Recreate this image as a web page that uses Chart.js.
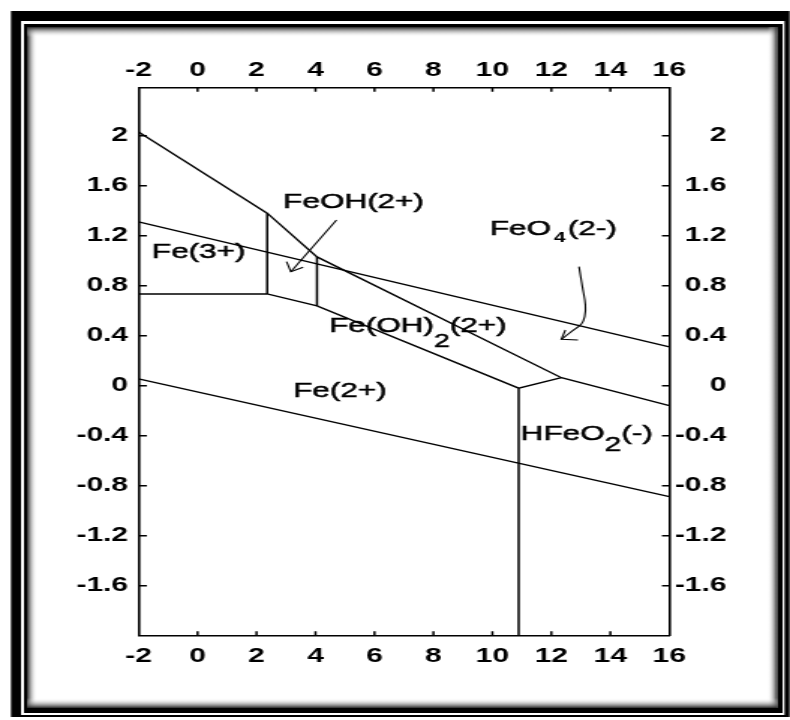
<!DOCTYPE html>
<html><head><meta charset="utf-8">
<style>
html,body{margin:0;padding:0;background:#fff;overflow:hidden}
#c{display:block}
</style>
<script src="https://cdn.jsdelivr.net/npm/chart.js@4/dist/chart.umd.min.js"></script>
</head><body>
<canvas id="c" width="527" height="720" style="width:790px;height:720px"></canvas>
<script>
// ---- data (pH on x, potential E in volts on y) ----
const xTickValues = [-2, 0, 2, 4, 6, 8, 10, 12, 14, 16];
const yTickValues = [-1.6, -1.2, -0.8, -0.4, 0, 0.4, 0.8, 1.2, 1.6, 2];

const upperBoundaryPH = [-2, 2.36, 4.05, 12.34, 16];
const upperBoundaryE  = [2.03, 1.38, 1.03, 0.064, -0.16];
const lowerBoundaryPH = [-2, 2.36, 4.05, 10.89, 12.34];
const lowerBoundaryE  = [0.734, 0.734, 0.638, -0.02, 0.064];
const oxygenLinePH    = [-2, 16];
const oxygenLineE     = [1.31, 0.31];
const hydrogenLinePH  = [-2, 16];
const hydrogenLineE   = [0.054, -0.888];
const verticalPH      = [2.36, 4.05, 10.89];
const verticalTopE    = [1.38, 1.03, -0.02];
const verticalBottomE = [0.734, 0.638, -2];

const feohArrowPH = [4.712, 3.163];
const feohArrowE  = [1.3256, 0.912];
const feohHeadPH  = [3.017, 3.163, 3.580];
const feohHeadE   = [0.992, 0.912, 0.947];
const feo4ArrowPH = [12.936, 13.051, 13.153, 13.129, 13.017, 12.678, 12.339];
const feo4ArrowE  = [0.952, 0.792, 0.6456, 0.552, 0.4936, 0.432, 0.3712];
const feo4HeadPH  = [12.475, 12.339, 12.902];
const feo4HeadE   = [0.4456, 0.3712, 0.3656];

// region labels: anchor (pH, E) of text start / baseline; parts: [text, kind]
const regionLabels = [
  { pH: -1.549, E: 1.019, parts: [['Fe(3+)', 'n']] },
  { pH: 2.902,  E: 1.419, parts: [['FeOH(2+)', 'n']] },
  { pH: 9.908,  E: 1.206, parts: [['FeO', 'n'], ['4', 'b'], ['(2-)', 'n']] },
  { pH: 4.461,  E: 0.432, parts: [['Fe(OH)', 'n'], ['2', 's'], ['(2+)', 'n']] },
  { pH: 3.241,  E: -0.088, parts: [['Fe(2+)', 'n']] },
  { pH: 10.96,  E: -0.434, parts: [['HFeO', 'n'], ['2', 'S'], ['(-)', 'n']] }
];

const pts = (xs, ys) => xs.map((x, i) => ({ x: x, y: ys[i] }));
const line = (data, extra) => Object.assign({
  data: data, showLine: true, pointRadius: 0, borderColor: '#000',
  backgroundColor: '#000', borderWidth: 1.4, fill: false, tension: 0
}, extra || {});

const datasets = [
  line(pts(upperBoundaryPH, upperBoundaryE)),
  line(pts(lowerBoundaryPH, lowerBoundaryE)),
  line(pts(oxygenLinePH, oxygenLineE)),
  line(pts(hydrogenLinePH, hydrogenLineE)),
  line(pts(feohArrowPH, feohArrowE), { borderWidth: 1.1 }),
  line(pts(feohHeadPH, feohHeadE), { borderWidth: 1.1 }),
  line(pts(feo4ArrowPH, feo4ArrowE), { borderWidth: 1.1, tension: 0.4 }),
  line(pts(feo4HeadPH, feo4HeadE), { borderWidth: 1.1 })
];
verticalPH.forEach((p, i) => {
  datasets.push(line([{ x: p, y: verticalBottomE[i] }, { x: p, y: verticalTopE[i] }], { borderWidth: 1.5 }));
});

const SX = 1.5; // canvas is drawn at 527px and stretched to 790px
const tickFont = { family: '"Liberation Sans", Arial, sans-serif', size: 20, weight: 'bold' };
const fmt = v => String(Math.round(v * 10) / 10);

function axis(pos, extra) {
  const isX = pos === 'top' || pos === 'bottom';
  return Object.assign({
    type: 'linear', position: pos,
    min: -2, max: isX ? 16 : 2.387,
    afterBuildTicks: s => { s.ticks = (isX ? xTickValues : yTickValues).map(v => ({ value: v })); },
    grid: { display: false, drawTicks: false },
    border: { display: true, color: '#000', width: 1.6 }
  }, extra);
}

const framePlugin = {
  id: 'frame',
  beforeDraw(chart) {
    const c = chart.ctx;
    const W = chart.width, H = chart.height;
    const X = v => v / SX;
    c.save();
    c.fillStyle = '#fff'; c.fillRect(0, 0, W, H);
    c.fillStyle = '#000'; c.fillRect(X(11), 11, X(790) - X(11), 717 - 11);
    c.fillStyle = '#fff'; c.fillRect(X(21), 21, X(785) - X(21), 715 - 21);
    c.fillStyle = '#000'; c.fillRect(X(24), 24, X(783) - X(24), 713 - 24);
    const L = X(27), T = 27, R = X(778), B = 708;
    c.fillStyle = '#fff'; c.fillRect(L, T, R - L, B - T);
    const d = 10;
    let g;
    g = c.createLinearGradient(L, 0, X(27 + d), 0);
    g.addColorStop(0, 'rgba(40,40,40,1)'); g.addColorStop(1, 'rgba(255,255,255,0)');
    c.fillStyle = g; c.fillRect(L, T, X(27 + d) - L, B - T);
    g = c.createLinearGradient(0, T, 0, T + d);
    g.addColorStop(0, 'rgba(40,40,40,1)'); g.addColorStop(1, 'rgba(255,255,255,0)');
    c.fillStyle = g; c.fillRect(L, T, R - L, d);
    g = c.createLinearGradient(R, 0, X(778 - d), 0);
    g.addColorStop(0, 'rgba(40,40,40,1)'); g.addColorStop(1, 'rgba(255,255,255,0)');
    c.fillStyle = g; c.fillRect(X(778 - d), T, R - X(778 - d), B - T);
    g = c.createLinearGradient(0, B, 0, B - d);
    g.addColorStop(0, 'rgba(40,40,40,1)'); g.addColorStop(1, 'rgba(255,255,255,0)');
    c.fillStyle = g; c.fillRect(L, B - d, R - L, d);
    c.restore();
  }
};

const decorPlugin = {
  id: 'decor',
  afterDraw(chart) {
    const c = chart.ctx;
    const sx = chart.scales.x, sy = chart.scales.y;
    const a = chart.chartArea;
    c.save();
    // inward tick marks
    c.strokeStyle = '#000'; c.lineWidth = 1.5;
    c.beginPath();
    xTickValues.slice(1, -1).forEach(v => {
      const px = sx.getPixelForValue(v);
      c.moveTo(px, a.top); c.lineTo(px, a.top + 4.5);
      c.moveTo(px, a.bottom); c.lineTo(px, a.bottom - 4.5);
    });
    yTickValues.forEach(v => {
      const py = sy.getPixelForValue(v);
      c.moveTo(a.left, py); c.lineTo(a.left + 5.5, py);
      c.moveTo(a.right, py); c.lineTo(a.right - 4.9, py);
    });
    c.stroke();
    // region labels
    c.fillStyle = '#000';
    c.strokeStyle = '#000';
    c.lineWidth = 0.5;
    c.textBaseline = 'alphabetic';
    c.textAlign = 'left';
    const fam = '"Liberation Sans", Arial, sans-serif';
    regionLabels.forEach(lb => {
      let x = sx.getPixelForValue(lb.pH);
      const y = sy.getPixelForValue(lb.E);
      lb.parts.forEach(([t, k]) => {
        let dy = 0, gapBefore = 0, gapAfter = 0, thick = true;
        if (k === 'n') c.font = '21px ' + fam;
        else if (k === 's') { c.font = '19px ' + fam; dy = 15; }
        else if (k === 'S') { c.font = '20px ' + fam; dy = 11.5; }
        else if (k === 'b') { c.font = 'bold 14px ' + fam; dy = 6.7; gapBefore = 2; gapAfter = 1.5; thick = false; }
        x += gapBefore;
        c.fillText(t, x, y + dy);
        if (thick) c.strokeText(t, x, y + dy);
        x += c.measureText(t).width + gapAfter;
      });
    });
    c.restore();
  }
};

const tickOpts = pad => ({ autoSkip: false, maxRotation: 0, color: '#000', font: tickFont, callback: fmt, padding: pad });
const rightAxisEdge = 727 / SX;   // right edge of right-hand labels
const plotRight = 669.7 / SX;

new Chart(document.getElementById('c'), {
  type: 'scatter',
  data: { datasets: datasets },
  options: {
    responsive: false,
    devicePixelRatio: 1,
    animation: false,
    events: [],
    layout: { padding: { left: 0, top: 0, bottom: 0, right: 527 - rightAxisEdge } },
    plugins: { legend: { display: false }, tooltip: { enabled: false } },
    scales: {
      x: axis('bottom', { afterFit: s => { s.height = 720 - 635.7; }, ticks: tickOpts(8.8) }),
      x2: axis('top', { afterFit: s => { s.height = 87.3; }, ticks: tickOpts(5) }),
      y: axis('left', { afterFit: s => { s.width = 138.7 / SX; }, ticks: tickOpts(7) }),
      y2: axis('right', { afterFit: s => { s.width = rightAxisEdge - plotRight; },
        ticks: Object.assign(tickOpts(4), { crossAlign: 'far' }) })
    }
  },
  plugins: [framePlugin, decorPlugin]
});
</script>
</body></html>
